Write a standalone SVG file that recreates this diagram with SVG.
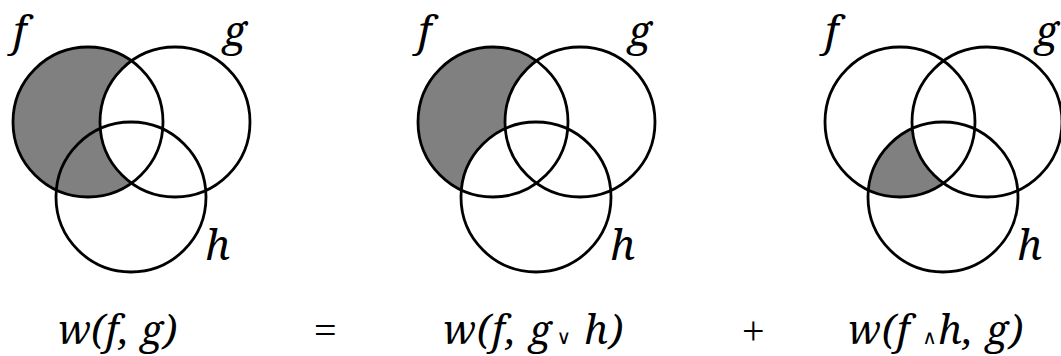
<svg xmlns="http://www.w3.org/2000/svg" width="1061" height="356" viewBox="0 0 1061 356">
<style>
.c{fill:none;stroke:#000;stroke-width:2.8}
.sh{fill:#808080}
.wh{fill:#fff}
.lbl{font-family:'Noto Serif','DejaVu Serif',serif;font-style:italic;font-size:42px;fill:#000}
.eq{font-family:'Noto Serif','DejaVu Serif',serif;font-style:italic;font-size:40px;fill:#000}
.op{font-family:'Liberation Serif','DejaVu Serif',serif;font-size:40px;fill:#000}
.sm{font-style:normal;font-family:'DejaVu Sans',sans-serif;font-size:20px}
</style>
<defs>
<clipPath id="cf3"><circle cx="900" cy="122" r="75"/></clipPath>
</defs>
<g id="diagram1">
<circle class="sh" cx="88" cy="122" r="75"/>
<circle class="wh" cx="175" cy="122" r="75"/>
<circle class="c" cx="88" cy="122" r="75"/>
<circle class="c" cx="175" cy="122" r="75"/>
<circle class="c" cx="131" cy="197" r="75"/>
<text class="lbl" x="13" y="46">f</text>
<text class="lbl" x="223" y="46">g</text>
<text class="lbl" x="205" y="260">h</text>
</g>
<g id="diagram2">
<circle class="sh" cx="493" cy="122" r="75"/>
<circle class="wh" cx="580" cy="122" r="75"/>
<circle class="wh" cx="536" cy="197" r="75"/>
<circle class="c" cx="493" cy="122" r="75"/>
<circle class="c" cx="580" cy="122" r="75"/>
<circle class="c" cx="536" cy="197" r="75"/>
<text class="lbl" x="418" y="46">f</text>
<text class="lbl" x="628" y="46">g</text>
<text class="lbl" x="610" y="260">h</text>
</g>
<g id="diagram3">
<circle class="sh" cx="943" cy="197" r="75" clip-path="url(#cf3)"/>
<circle class="wh" cx="987" cy="122" r="75"/>
<circle class="c" cx="900" cy="122" r="75"/>
<circle class="c" cx="987" cy="122" r="75"/>
<circle class="c" cx="943" cy="197" r="75"/>
<text class="lbl" x="825" y="46">f</text>
<text class="lbl" x="1035" y="46">g</text>
<text class="lbl" x="1017" y="260">h</text>
</g>
<g id="formula">
<text class="eq" x="58" y="344" textLength="119" lengthAdjust="spacing">w(f, g)</text>
<text class="op" x="314" y="344">=</text>
<text class="eq" x="443" y="344" textLength="180" lengthAdjust="spacing">w(f, g<tspan class="sm" dx="4">∨</tspan> h)</text>
<text class="op" x="742" y="344">+</text>
<text class="eq" x="848" y="344" textLength="175" lengthAdjust="spacing">w(f <tspan class="sm">∧</tspan>h, g)</text>
</g>
</svg>
